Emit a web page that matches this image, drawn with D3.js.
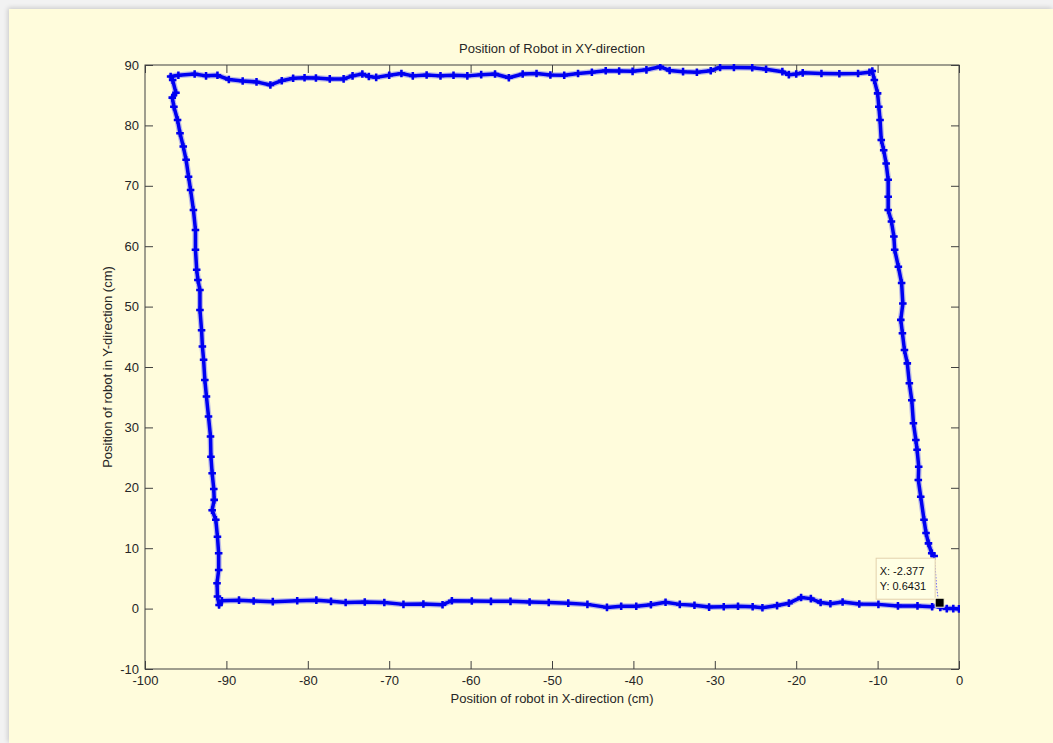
<!DOCTYPE html>
<html>
<head>
<meta charset="utf-8">
<script src="https://cdn.jsdelivr.net/npm/d3@7"></script>
<style>
  body { margin: 0; background: #f2f2f2; width: 1053px; height: 743px; overflow: hidden; }
  #frame { position: absolute; left: 9px; top: 9px; width: 1044px; height: 734px;
           background: #fffcdc; box-shadow: -1px -1px 5px rgba(0,0,0,0.18); }
  #chart { position: absolute; left: 0; top: 0; }
  svg text { font-family: "Liberation Sans", Arial, sans-serif; }
</style>
</head>
<body>
<div id="frame"></div>
<div id="chart"></div>
<script>
// Tick values
const xTicks = [-100, -90, -80, -70, -60, -50, -40, -30, -20, -10, 0];
const yTicks = [-10, 0, 10, 20, 30, 40, 50, 60, 70, 80, 90];

// Robot track, in path order [x, y]
const startLeg = [[0, -0.05], [-0.7, 0], [-1.5, 0], [-2.3, 0.2], [-2.377, 0.6431]];

const bottomEdge = [[-3.3, 0.3], [-5.1, 0.45], [-7.5, 0.45], [-9.9, 0.7], [-12.25, 0.75], [-14.3, 1.1],
  [-15.8, 0.8], [-17.0, 1.0], [-18.2, 1.65], [-19.4, 1.85], [-20.9, 0.9], [-22.35, 0.5], [-24.15, 0.15],
  [-25.35, 0.3], [-27.15, 0.4], [-28.9, 0.3], [-30.7, 0.25], [-32.5, 0.55], [-34.3, 0.7], [-36.05, 1.05],
  [-37.85, 0.65], [-39.65, 0.4], [-41.5, 0.4], [-43.25, 0.2], [-45.65, 0.7], [-48.0, 0.9], [-50.4, 1.0],
  [-52.75, 1.1], [-55.1, 1.2], [-57.5, 1.2], [-59.85, 1.25], [-62.3, 1.3], [-63.45, 0.65], [-65.8, 0.75],
  [-68.25, 0.7], [-70.6, 1.0], [-73.0, 1.1], [-75.35, 1.0], [-77.15, 1.2], [-78.95, 1.4], [-81.3, 1.3],
  [-84.3, 1.15], [-86.65, 1.25], [-88.45, 1.4], [-90.55, 1.3], [-90.9, 0.6]];

const leftEdge = [[-91.1, 2.0], [-91.15, 4.2], [-90.95, 6.4], [-90.95, 9.15], [-91.1, 11.9], [-91.3, 14.7],
  [-91.75, 16.3], [-91.5, 18.0], [-91.55, 19.8], [-91.75, 22.4], [-91.9, 25.15], [-91.95, 28.5],
  [-92.2, 31.8], [-92.45, 35.1], [-92.65, 37.85], [-92.8, 41.2], [-92.95, 43.4], [-93.05, 46.1],
  [-93.25, 49.45], [-93.25, 52.75], [-93.5, 54.4], [-93.65, 56.1], [-93.8, 59.4], [-93.8, 62.7],
  [-94.05, 66.0], [-94.4, 69.3], [-94.65, 71.5], [-94.95, 74.3], [-95.3, 76.5], [-95.7, 78.7],
  [-96.0, 80.9], [-96.45, 83.1], [-96.65, 84.6], [-96.2, 85.4], [-96.6, 87.5], [-96.85, 88.1]];

const topEdge = [[-95.9, 88.3], [-93.9, 88.5], [-92.5, 88.2], [-91.1, 88.3], [-89.7, 87.6], [-88.0, 87.35],
  [-86.3, 87.2], [-84.6, 86.7], [-83.2, 87.4], [-81.8, 87.8], [-80.4, 87.9], [-79.0, 87.85], [-77.3, 87.7],
  [-75.6, 87.7], [-74.5, 88.2], [-73.3, 88.5], [-72.5, 88.1], [-71.6, 87.95], [-70.0, 88.3], [-68.5, 88.6],
  [-67.1, 88.2], [-65.4, 88.35], [-63.7, 88.2], [-62.1, 88.3], [-60.4, 88.2], [-58.7, 88.4], [-57.0, 88.5],
  [-55.3, 87.9], [-53.6, 88.5], [-51.9, 88.6], [-50.2, 88.35], [-48.5, 88.3], [-46.8, 88.6], [-45.1, 88.8],
  [-43.4, 89.05], [-41.75, 89.0], [-40.1, 88.95], [-38.4, 89.2], [-36.7, 89.7], [-35.55, 89.1],
  [-33.9, 88.9], [-32.2, 88.8], [-30.5, 89.05], [-29.35, 89.6], [-27.65, 89.6], [-25.4, 89.55],
  [-23.7, 89.3], [-21.7, 88.9], [-20.9, 88.4], [-20.0, 88.5], [-19.2, 88.7], [-16.9, 88.6], [-14.7, 88.55],
  [-12.4, 88.6], [-11.0, 88.8], [-10.65, 89.0]];

const rightEdge = [[-10.4, 87.5], [-10.0, 85.3], [-9.85, 83.1], [-9.7, 80.9], [-9.55, 77.6], [-9.25, 75.9],
  [-8.95, 73.7], [-8.7, 71.0], [-8.7, 68.2], [-8.7, 66.0], [-8.3, 64.1], [-8.0, 61.6], [-7.9, 59.4],
  [-7.45, 56.6], [-7.05, 53.9], [-6.9, 50.5], [-7.15, 47.8], [-6.95, 45.6], [-6.7, 42.8], [-6.35, 40.6],
  [-6.1, 37.3], [-5.8, 34.5], [-5.6, 30.7], [-5.3, 27.9], [-5.15, 26.3], [-4.95, 23.5], [-5.0, 21.3],
  [-4.7, 18.5], [-4.3, 14.7], [-4.05, 12.5], [-3.75, 10.8], [-3.35, 9.15], [-3.05, 8.7]];

// last sparse stretch back down to the data tip
const approach = [[-3.05, 8.7], [-2.9, 6.4], [-2.75, 3.6], [-2.6, 2.0], [-2.377, 0.6431]];

const dataTip = { x: -2.377, y: 0.6431 };

// Plot box
const margin = { top: 65, right: 94, bottom: 74, left: 145 };
const W = 1053, H = 743;
const width = W - margin.left - margin.right;
const height = H - margin.top - margin.bottom;

const svg = d3.select("#chart")
  .append("svg")
  .attr("width", W)
  .attr("height", H);

const g = svg.append("g")
  .attr("transform", `translate(${margin.left},${margin.top})`);

const x = d3.scaleLinear().domain([-100, 0]).range([0, width]);
const y = d3.scaleLinear().domain([-10, 90]).range([height, 0]);

const axisColor = "#404040";
const textColor = "#262626";
const tick = 8;
const plain = d => String(d); // hyphen minus like the original, not the unicode minus

// axes with inward ticks on all four sides
const xAxis = g.append("g")
  .attr("transform", `translate(0,${height})`)
  .call(d3.axisBottom(x).tickValues(xTicks).tickFormat(plain).tickSizeInner(-tick).tickSizeOuter(0).tickPadding(7));
const xTop = g.append("g")
  .call(d3.axisTop(x).tickValues(xTicks).tickSizeInner(-tick).tickSizeOuter(0).tickFormat(""));
const yAxis = g.append("g")
  .call(d3.axisLeft(y).tickValues(yTicks).tickFormat(plain).tickSizeInner(-tick).tickSizeOuter(0).tickPadding(6));
const yRight = g.append("g")
  .attr("transform", `translate(${width},0)`)
  .call(d3.axisRight(y).tickValues(yTicks).tickSizeInner(-tick).tickSizeOuter(0).tickFormat(""));

[xAxis, xTop, yAxis, yRight].forEach(a => {
  a.select(".domain").remove();
  a.selectAll("line").attr("stroke", axisColor);
  a.selectAll("text").attr("fill", textColor).style("font-size", "13px");
});

g.append("rect")
  .attr("width", width)
  .attr("height", height)
  .attr("fill", "none")
  .attr("stroke", axisColor)
  .attr("stroke-width", 1);

// clip the track to the axes
svg.append("defs").append("clipPath").attr("id", "clip")
  .append("rect").attr("x", -1).attr("y", -1).attr("width", width + 2).attr("height", height + 2);

const plot = g.append("g").attr("clip-path", "url(#clip)");

const track = [].concat(startLeg, bottomEdge, leftEdge, topEdge, rightEdge);
const line = d3.line().x(d => x(d[0])).y(d => y(d[1]));

plot.append("path")
  .datum(track)
  .attr("fill", "none")
  .attr("stroke", "#7a7af2")
  .attr("stroke-opacity", 0.5)
  .attr("stroke-width", 6)
  .attr("stroke-linejoin", "round")
  .attr("d", line);

plot.append("path")
  .datum(track)
  .attr("fill", "none")
  .attr("stroke", "#0000f0")
  .attr("stroke-width", 3.5)
  .attr("stroke-linejoin", "round")
  .attr("d", line);

plot.selectAll("path.marker")
  .data(track)
  .enter()
  .append("path")
  .attr("class", "marker")
  .attr("transform", d => `translate(${x(d[0])},${y(d[1])})`)
  .attr("d", d3.symbol(d3.symbolCross, 32))
  .attr("fill", "#0000f0");

plot.append("path")
  .datum(approach)
  .attr("fill", "none")
  .attr("stroke", "#2a2aff")
  .attr("stroke-opacity", 0.7)
  .attr("stroke-width", 1)
  .attr("stroke-dasharray", "1.5,1.5")
  .attr("d", line);

// data tip
const tx = x(dataTip.x), ty = y(dataTip.y);
const tip = g.append("g").attr("transform", `translate(${tx - 64},${ty - 47})`);
tip.append("rect")
  .attr("x", 0.5).attr("y", 0.5)
  .attr("width", 59).attr("height", 41)
  .attr("fill", "#ffffe4")
  .attr("stroke", "#e3d2ad");
tip.append("text").attr("x", 4).attr("y", 17)
  .attr("fill", "#111").style("font-size", "11px")
  .text(`X: ${dataTip.x}`);
tip.append("text").attr("x", 4).attr("y", 32)
  .attr("fill", "#111").style("font-size", "11px")
  .text(`Y: ${dataTip.y}`);

g.append("rect")
  .attr("x", tx - 4.5).attr("y", ty - 6.5)
  .attr("width", 9).attr("height", 9)
  .attr("fill", "#000")
  .attr("stroke", "#fffcdc")
  .attr("stroke-width", 1);

// title and axis labels
g.append("text")
  .attr("x", width / 2)
  .attr("y", -12)
  .attr("text-anchor", "middle")
  .attr("fill", textColor)
  .style("font-size", "13px")
  .text("Position of Robot in XY-direction");

g.append("text")
  .attr("x", width / 2)
  .attr("y", height + 34)
  .attr("text-anchor", "middle")
  .attr("fill", textColor)
  .style("font-size", "13px")
  .text("Position of robot in X-direction (cm)");

g.append("text")
  .attr("transform", "rotate(-90)")
  .attr("x", -height / 2)
  .attr("y", -33)
  .attr("text-anchor", "middle")
  .attr("fill", textColor)
  .style("font-size", "13px")
  .text("Position of robot in Y-direction (cm)");
</script>
</body>
</html>
